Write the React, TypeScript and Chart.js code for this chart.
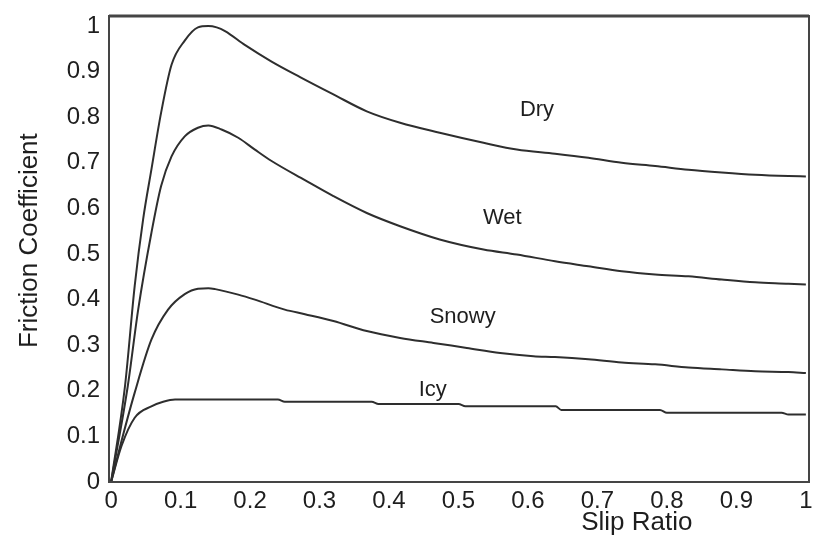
import { useEffect, useRef } from 'react';
import { Chart, registerables } from 'chart.js';

Chart.register(...registerables);

// ---- tick values / labels ----
const xTickValues = [0, 0.1, 0.2, 0.3, 0.4, 0.5, 0.6, 0.7, 0.8, 0.9, 1];
const xTickLabels = ['0', '0.1', '0.2', '0.3', '0.4', '0.5', '0.6', '0.7', '0.8', '0.9', '1'];
const yTickValues = [0, 0.1, 0.2, 0.3, 0.4, 0.5, 0.6, 0.7, 0.8, 0.9, 1];
const yTickLabels = ['0', '0.1', '0.2', '0.3', '0.4', '0.5', '0.6', '0.7', '0.8', '0.9', '1'];

const xTitle = 'Slip Ratio';
const yTitle = 'Friction Coefficient';

// ---- series: Dry ----
const dryX = [0, 0.02, 0.034, 0.046, 0.058, 0.072, 0.087, 0.106, 0.125, 0.14, 0.152, 0.164, 0.193, 0.231, 0.272, 0.32, 0.368, 0.416, 0.473, 0.536, 0.584, 0.639, 0.687, 0.735, 0.783, 0.831, 0.879, 0.927, 0.975, 1.0];
const dryY = [0, 0.21, 0.43, 0.575, 0.685, 0.81, 0.915, 0.968, 0.997, 1.0, 0.997, 0.989, 0.958, 0.922, 0.888, 0.85, 0.813, 0.788, 0.766, 0.744, 0.729, 0.72, 0.711, 0.7, 0.693, 0.685, 0.679, 0.674, 0.671, 0.67];

// ---- series: Wet ----
const wetX = [0, 0.024, 0.039, 0.058, 0.072, 0.087, 0.106, 0.125, 0.14, 0.159, 0.183, 0.207, 0.231, 0.279, 0.32, 0.368, 0.416, 0.473, 0.536, 0.584, 0.639, 0.687, 0.735, 0.783, 0.831, 0.879, 0.927, 0.975, 1.0];
const wetY = [0, 0.21, 0.378, 0.546, 0.649, 0.714, 0.758, 0.777, 0.782, 0.773, 0.755, 0.729, 0.704, 0.662, 0.627, 0.59, 0.561, 0.532, 0.51, 0.499, 0.484, 0.473, 0.462, 0.455, 0.451, 0.444, 0.438, 0.435, 0.433];

// ---- series: Snowy ----
const snowyX = [0, 0.015, 0.034, 0.058, 0.082, 0.106, 0.125, 0.14, 0.15, 0.183, 0.207, 0.25, 0.279, 0.32, 0.368, 0.416, 0.464, 0.512, 0.56, 0.608, 0.639, 0.687, 0.735, 0.783, 0.831, 0.879, 0.927, 0.975, 1.0];
const snowyY = [0, 0.09, 0.196, 0.312, 0.378, 0.412, 0.424, 0.425, 0.423, 0.411, 0.4, 0.378, 0.368, 0.353, 0.331, 0.316, 0.305, 0.294, 0.283, 0.276, 0.274, 0.269, 0.262, 0.258, 0.251, 0.247, 0.243, 0.241, 0.239];

// ---- series: Icy ----
const icyX = [0, 0.015, 0.034, 0.058, 0.075, 0.092, 0.24, 0.25, 0.375, 0.385, 0.5, 0.51, 0.64, 0.648, 0.79, 0.8, 0.965, 0.975, 1.0];
const icyY = [0, 0.079, 0.141, 0.166, 0.176, 0.181, 0.181, 0.176, 0.176, 0.171, 0.171, 0.166, 0.166, 0.158, 0.158, 0.152, 0.152, 0.148, 0.148];

// ---- in-plot curve labels (data coordinates) ----
const curveLabels = ['Dry', 'Wet', 'Snowy', 'Icy'];
const curveLabelX = [0.613, 0.563, 0.506, 0.463];
const curveLabelY = [0.817, 0.58, 0.362, 0.203];

const FONT = '"Liberation Sans", Arial, Helvetica, sans-serif';
const LINE = '#2e2e2e';
const TEXT = '#1e1e1e';

const toPoints = (xs: number[], ys: number[]) => xs.map((x, i) => ({ x, y: ys[i] }));

const annotPlugin = {
  id: 'annot',
  afterDraw(chart: any) {
    const { ctx, chartArea: a, scales } = chart;
    ctx.save();
    // frame
    ctx.strokeStyle = '#454545';
    ctx.lineWidth = 2;
    ctx.strokeRect(a.left, a.top, a.right - a.left, a.bottom - a.top);
    ctx.lineWidth = 3;
    ctx.beginPath();
    ctx.moveTo(a.left, a.top);
    ctx.lineTo(a.right, a.top);
    ctx.stroke();
    // curve labels
    ctx.fillStyle = TEXT;
    ctx.font = `22px ${FONT}`;
    ctx.textAlign = 'center';
    ctx.textBaseline = 'middle';
    curveLabels.forEach((t, i) => {
      ctx.fillText(t, scales.x.getPixelForValue(curveLabelX[i]), scales.y.getPixelForValue(curveLabelY[i]));
    });
    // axis titles
    ctx.font = `26px ${FONT}`;
    ctx.fillText(xTitle, a.left + (a.right - a.left) * 0.754, a.bottom + 41);
    ctx.translate(30, a.top + (a.bottom - a.top) * 0.482);
    ctx.rotate(-Math.PI / 2);
    ctx.fillText(yTitle, 0, 0);
    ctx.restore();
  },
};

export default function App() {
  const ref = useRef<HTMLCanvasElement | null>(null);

  useEffect(() => {
    document.body.style.margin = '0';
    const canvas = ref.current;
    if (!canvas) return;
    const mk = (label: string, xs: number[], ys: number[]) => ({
      label,
      data: toPoints(xs, ys),
      borderColor: LINE,
      borderWidth: 2,
      pointRadius: 0,
      fill: false,
      cubicInterpolationMode: 'monotone' as const,
    });
    const chart = new Chart(canvas, {
      type: 'line',
      data: {
        datasets: [
          mk('Dry', dryX, dryY),
          mk('Wet', wetX, wetY),
          mk('Snowy', snowyX, snowyY),
          mk('Icy', icyX, icyY),
        ],
      },
      options: {
        responsive: false,
        animation: false,
        layout: { padding: { left: 0, top: 16, right: 4, bottom: 0 } },
        plugins: {
          legend: { display: false },
          tooltip: { enabled: false },
          title: { display: false },
        },
        scales: {
          x: {
            type: 'linear',
            min: -0.003,
            max: 1.0045,
            grid: { display: false, drawTicks: false },
            border: { display: false },
            afterBuildTicks: (s: any) => {
              s.ticks = xTickValues.map((v) => ({ value: v }));
            },
            afterFit: (s: any) => {
              s.height = 61;
              s.paddingLeft = 0;
              s.paddingRight = 0;
            },
            ticks: {
              padding: 5,
              maxRotation: 0,
              autoSkip: false,
              color: TEXT,
              font: { size: 24, family: FONT },
              callback: (_v: any, i: number) => xTickLabels[i],
            },
          },
          y: {
            type: 'linear',
            min: 0,
            max: 1.022,
            grid: { display: false, drawTicks: false },
            border: { display: false },
            afterBuildTicks: (s: any) => {
              s.ticks = yTickValues.map((v) => ({ value: v }));
            },
            afterFit: (s: any) => {
              s.width = 109;
              s.paddingTop = 0;
              s.paddingBottom = 0;
            },
            ticks: {
              padding: 9,
              autoSkip: false,
              color: TEXT,
              font: { size: 24, family: FONT },
              callback: (_v: any, i: number) => yTickLabels[i],
            },
          },
        },
      },
      plugins: [annotPlugin],
    });
    return () => chart.destroy();
  }, []);

  return (
    <div style={{ width: 813, height: 543, background: '#fff' }}>
      <canvas ref={ref} width={813} height={543} style={{ display: 'block' }} />
    </div>
  );
}
